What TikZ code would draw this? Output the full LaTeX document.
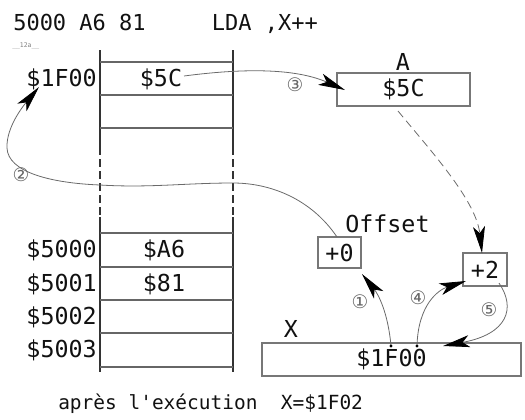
\documentclass[tikz,border=0pt]{standalone}
\usepackage{fontspec}
\setmonofont{DejaVu Sans Mono}
\newfontfamily\circfont{DejaVu Sans}
\usetikzlibrary{arrows.meta}
\definecolor{ink}{HTML}{111111}
\definecolor{gridc}{HTML}{333333}
\definecolor{boxc}{HTML}{777777}
\definecolor{connc}{HTML}{6A6A6A}
\begin{document}
\begin{tikzpicture}[x=0.75pt,y=-0.75pt,
  lbl/.style={font=\ttfamily\fontsize{17.5}{20}\selectfont, inner sep=0pt, text=ink},
  ttl/.style={font=\ttfamily\fontsize{16.5}{20}\selectfont, inner sep=0pt, text=ink},
  foot/.style={font=\ttfamily\fontsize{14.6}{18}\selectfont, inner sep=0pt, text=ink},
  regbox/.style={draw=boxc, line width=0.8pt, inner sep=0pt, font=\ttfamily\fontsize{17.5}{20}\selectfont, text=ink},
  gridv/.style={draw=gridc, line width=1.1pt},
  gridh/.style={draw=black!60, line width=0.8pt},
  conn/.style={draw=connc, line width=0.6pt, -{Stealth[length=20pt,width=9pt,inset=5pt,color=black]}},
  num/.style={font=\circfont\fontsize{14}{14}\selectfont, text=black!60, inner sep=0pt},
  dotc/.style={fill=black}
]
\useasboundingbox (0,0) rectangle (525,419);

% title
\node[ttl, anchor=base west] (title) at (13,30) {5000 A6 81\ \ \ \ \ LDA ,X++};
\node[font=\ttfamily\fontsize{4.8}{5}\selectfont, text=black!50, inner sep=0pt, anchor=base west] (tag) at (12,47) {\_\_12a\_\_};

% memory column
\draw[gridv] (100,50) -- (100,147);
\draw[gridv, dash pattern=on 6pt off 3pt] (100,147) -- (100,217);
\draw[gridv] (100,217) -- (100,372);
\draw[gridv] (233,50) -- (233,147);
\draw[gridv, dash pattern=on 6pt off 3pt] (233,147) -- (233,217);
\draw[gridv] (233,217) -- (233,372);
\foreach \yy in {62,95,128,233,267,300,333,367}
  \draw[gridh] (100,\yy) -- (233,\yy);

% memory labels
\node[lbl, anchor=base east] (m1f00) at (97,86) {\$1F00};
\node[lbl, anchor=base] (c5c) at (161,86) {\$5C};
\node[lbl, anchor=base east] (m5000) at (97,257) {\$5000};
\node[lbl, anchor=base east] (m5001) at (97,291) {\$5001};
\node[lbl, anchor=base east] (m5002) at (97,324) {\$5002};
\node[lbl, anchor=base east] (m5003) at (97,357) {\$5003};
\node[lbl, anchor=base] (ca6) at (164,257) {\$A6};
\node[lbl, anchor=base] (c81) at (164,291) {\$81};

% registers
\node[regbox, minimum width=99.75pt, minimum height=24.75pt] (A) at (403.5,89.5) {\$5C};
\node[lbl, anchor=base] (Alab) at (403,70) {A};
\node[regbox, minimum width=32.25pt, minimum height=23.25pt] (off0) at (339.5,252.5) {+0};
\node[regbox, minimum width=33pt, minimum height=24.75pt] (off2) at (485,269.5) {+2};
\node[lbl, anchor=base west] (offlab) at (345,232) {Offset};
\node[regbox, minimum width=194.25pt, minimum height=24.75pt] (X) at (391.5,359.5) {\$1F00};
\node[lbl, anchor=base] (Xlab) at (291,337) {X};

% footer
\node[foot, anchor=base west] (foot) at (58,409) {après l'exécution\ \ X=\$1F02};

% connector end points
\coordinate (s3) at (184,76);
\coordinate (e3) at (345,90);
\coordinate (s2) at (337,237);
\coordinate (e2) at (39,87);
\coordinate (s1) at (391,346);
\coordinate (e1) at (362,274);
\coordinate (s4) at (417,346);
\coordinate (e4) at (466,281);
\coordinate (s5) at (499,283);
\coordinate (e5) at (443,346);
\coordinate (sd) at (398,111);
\coordinate (ed) at (482,253);

% connectors
\draw[conn] (s3) .. controls (230,70) and (290,66) .. (e3);
\draw[conn] (s2) .. controls (312,200) and (272,183) .. (233,183)
  .. controls (185,183) and (150,188) .. (100,185)
  .. controls (50,183) and (8,172) .. (7,148)
  .. controls (6,127) and (24,105) .. (e2);
\draw[conn, dash pattern=on 6pt off 3.5pt] (sd) .. controls (430,150) and (476,200) .. (ed);
\draw[conn] (s1) .. controls (388,312) and (378,294) .. (e1);
\draw[conn] (s4) .. controls (418,305) and (438,290) .. (e4);
\draw[conn] (s5) .. controls (516,308) and (508,334) .. (e5);
\fill[dotc] (s1) circle[radius=1.3pt];
\fill[dotc] (s4) circle[radius=1.3pt];

% step numbers
\node[num] (n1) at (360,302) {①};
\node[num] (n2) at (21,175) {②};
\node[num] (n3) at (295,85) {③};
\node[num] (n4) at (418,298) {④};
\node[num] (n5) at (489,310) {⑤};
\end{tikzpicture}
\end{document}
